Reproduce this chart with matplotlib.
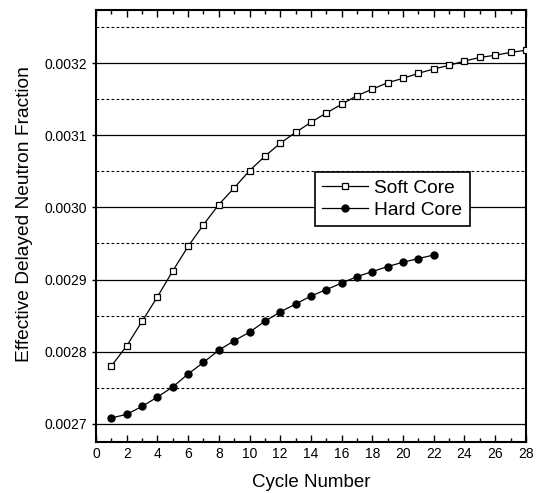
import matplotlib
matplotlib.use("Agg")
import matplotlib.pyplot as plt
from matplotlib.ticker import MultipleLocator, FormatStrFormatter

plt.rcParams['font.family'] = ['Liberation Sans', 'DejaVu Sans']

soft_x = list(range(1, 29))
soft_y = [0.002780, 0.002808, 0.002842, 0.002876, 0.002912, 0.002946, 0.002976,
          0.003004, 0.003027, 0.003051, 0.003071, 0.003089, 0.003104, 0.003118,
          0.003131, 0.003143, 0.003155, 0.003164, 0.003173, 0.003179, 0.003186,
          0.003192, 0.003197, 0.003203, 0.003208, 0.003211, 0.003215, 0.003218]
hard_x = list(range(1, 23))
hard_y = [0.002708, 0.002713, 0.002724, 0.002737, 0.002751, 0.002769, 0.002785,
          0.002802, 0.002815, 0.002827, 0.002842, 0.002855, 0.002866, 0.002877,
          0.002886, 0.002895, 0.002904, 0.002911, 0.002918, 0.002924, 0.002929,
          0.002934]

fig = plt.figure(figsize=(5.41, 4.93), dpi=100)
ax = fig.add_axes([0.1775, 0.104, 0.7945, 0.876])

ax.set_xlim(0, 28)
ax.set_ylim(0.002675, 0.003274)
ax.xaxis.set_major_locator(MultipleLocator(2))
ax.xaxis.set_minor_locator(MultipleLocator(1))
ax.yaxis.set_major_locator(MultipleLocator(0.0001))
ax.yaxis.set_minor_locator(MultipleLocator(0.00005))
ax.yaxis.set_major_formatter(FormatStrFormatter('%.4f'))

ax.grid(True, which='major', axis='y', color='black', linestyle='-', linewidth=0.9, zorder=0)
ax.grid(True, which='minor', axis='y', color='black', linestyle=(0, (2.5, 2)), linewidth=0.8, zorder=0)

ax.plot(soft_x, soft_y, color='black', linewidth=0.9, marker='s', markersize=4.5,
        markerfacecolor='white', markeredgecolor='black', markeredgewidth=0.9,
        label='Soft Core', zorder=3)
ax.plot(hard_x, hard_y, color='black', linewidth=0.9, marker='o', markersize=5,
        markerfacecolor='black', markeredgecolor='black',
        label='Hard Core', zorder=3)

ax.tick_params(axis='x', which='both', direction='in', top=True, bottom=True, labelsize=10)
ax.tick_params(axis='x', which='major', length=5, width=1)
ax.tick_params(axis='x', which='minor', length=3, width=1)
ax.tick_params(axis='y', which='both', direction='out', left=True, right=False, labelsize=10)
ax.tick_params(axis='y', which='major', length=3, width=1)
ax.tick_params(axis='y', which='minor', length=0)

for s in ax.spines.values():
    s.set_linewidth(1.5)
    s.set_color('black')

ax.set_xlabel('Cycle Number', fontsize=13.5, labelpad=10)
ax.set_ylabel('Effective Delayed Neutron Fraction', fontsize=13.8)
ax.yaxis.set_label_coords(-0.147, 0.527)

leg = ax.legend(loc='upper left', bbox_to_anchor=(0.509, 0.625), borderaxespad=0,
                fontsize=13.8, frameon=True, fancybox=False, edgecolor='black',
                framealpha=1, handlelength=2.4, handletextpad=0.3,
                borderpad=0.4, labelspacing=0.22)
leg.get_frame().set_linewidth(1.2)
leg.set_zorder(5)

fig.savefig('out.png', dpi=100)
